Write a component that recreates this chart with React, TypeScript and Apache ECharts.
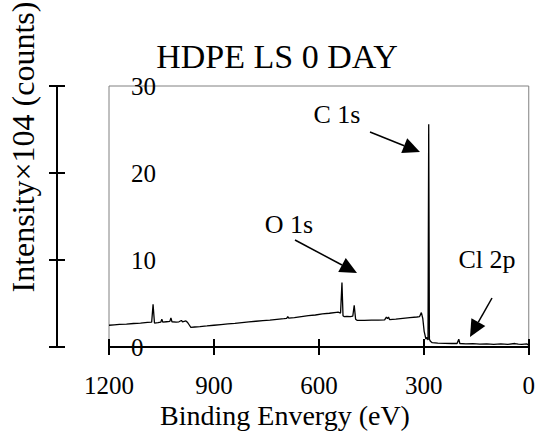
import React, { useEffect, useRef } from "react";
import * as echarts from "echarts";

const titleText = "HDPE LS 0 DAY";
const xAxisName = "Binding Envergy (eV)";
const yAxisName = "Intensity×104 (counts)";
const xMin = 0;
const xMax = 1200;
const xStep = 300;
const yMin = 0;
const yMax = 30;
const yStep = 10;

// binding energy (eV)
const energy = [
  1200, 1185, 1170, 1150, 1130, 1110, 1090, 1078, 1074, 1070, 1060, 1052, 1049, 1046,
  1036, 1026, 1023, 1020, 1008, 1000, 993, 990, 985, 980, 976, 970, 966, 955, 940, 920,
  900, 880, 860, 840, 820, 800, 780, 760, 740, 720, 700, 692, 689, 686, 670, 650, 630,
  610, 590, 570, 550, 545, 538, 534, 531, 528, 520, 510, 503, 499, 495, 490, 470, 450,
  430, 412, 407, 404, 401, 398, 380, 360, 340, 320, 312, 307, 303, 299, 294, 291, 288,
  286, 284, 281, 276, 260, 240, 220, 205, 200, 197, 180, 160, 140, 120, 100, 80, 60, 40,
  30, 20, 5, 0,
];
// intensity (x10^4 counts)
const intensity = [
  2.5, 2.55, 2.6, 2.62, 2.7, 2.75, 2.82, 2.85, 4.9, 2.75, 2.8, 2.85, 3.2, 2.85,
  2.9, 2.95, 3.35, 2.9, 2.85, 2.9, 3.05, 2.9, 2.95, 3.0, 2.85, 2.5, 2.25, 2.3, 2.35, 2.42,
  2.5, 2.58, 2.65, 2.72, 2.8, 2.88, 2.96, 3.03, 3.1, 3.18, 3.25, 3.3, 3.5, 3.32, 3.38, 3.5, 3.6,
  3.68, 3.8, 3.88, 3.98, 4.0, 3.9, 7.4, 3.6, 3.5, 3.52, 3.5, 3.55, 4.8, 3.2, 3.05, 3.05, 3.1,
  3.1, 3.12, 3.45, 3.25, 3.45, 3.15, 3.2, 3.3, 3.38, 3.45, 3.5, 3.95, 3.3, 1.8, 0.9, 1.1, 0.8,
  25.6, 0.9, 0.65, 0.5, 0.45, 0.42, 0.4, 0.4, 0.9, 0.4, 0.35, 0.38, 0.32, 0.35, 0.3, 0.35, 0.3, 0.4,
  0.32, 0.3, 0.35, 0.2,
];
const peakLabels = ["C 1s", "O 1s", "Cl 2p"];

const FONT = "Times New Roman, Liberation Serif, DejaVu Serif, serif";

function arrow(x1: number, y1: number, x2: number, y2: number) {
  const dx = x2 - x1;
  const dy = y2 - y1;
  const len = Math.sqrt(dx * dx + dy * dy);
  const ux = dx / len;
  const uy = dy / len;
  const hl = 17;
  const hw = 8;
  const bx = x2 - ux * hl;
  const by = y2 - uy * hl;
  return [
    {
      type: "line",
      shape: { x1, y1, x2: bx, y2: by },
      style: { stroke: "#000", lineWidth: 1.5 },
    },
    {
      type: "polygon",
      shape: {
        points: [
          [x2, y2],
          [bx - uy * hw, by + ux * hw],
          [bx + uy * hw, by - ux * hw],
        ],
      },
      style: { fill: "#000" },
    },
  ];
}

function label(text: string, x: number, y: number, size: number, rotation = 0) {
  return {
    type: "text",
    x,
    y,
    rotation,
    style: {
      text,
      font: `${size}px ${FONT}`,
      fontFamily: FONT,
      fontSize: size,
      fill: "#000",
      align: "center",
      verticalAlign: "middle",
    },
  };
}

export default function App() {
  const ref = useRef<HTMLDivElement>(null);
  useEffect(() => {
    if (!ref.current) return;
    const chart = echarts.init(ref.current, undefined, { renderer: "svg" });
    const data = energy.map((e, i) => [e, intensity[i]]);
    const baseX = {
      type: "value",
      min: xMin,
      max: xMax,
      interval: xStep,
      inverse: true,
      position: "bottom",
      splitLine: { show: false },
      axisLine: { show: true, onZero: false, lineStyle: { color: "#000", width: 2 } },
    };
    const baseY = {
      type: "value",
      min: yMin,
      max: yMax,
      interval: yStep,
      position: "left",
      offset: 52,
      splitLine: { show: false },
      axisLine: { show: true, onZero: false, lineStyle: { color: "#000", width: 2 } },
    };
    chart.setOption({
      animation: false,
      backgroundColor: "#fff",
      textStyle: { fontFamily: FONT },
      grid: {
        left: 109,
        right: 9,
        top: 86,
        bottom: 90,
        show: true,
        borderColor: "#808080",
        borderWidth: 1,
        backgroundColor: "transparent",
      },
      xAxis: [
        {
          ...baseX,
          axisTick: { show: true, inside: false, length: 8, lineStyle: { color: "#000", width: 2 } },
          axisLabel: {
            color: "#000",
            fontFamily: FONT,
            fontSize: 25,
            margin: 26,
            formatter: (v: number) => String(v),
          },
        },
        {
          ...baseX,
          axisTick: { show: true, inside: true, length: 8, lineStyle: { color: "#000", width: 2 } },
          axisLabel: { show: false },
        },
      ],
      yAxis: [
        {
          ...baseY,
          axisTick: { show: true, inside: false, length: 8, lineStyle: { color: "#000", width: 2 } },
          axisLabel: {
            inside: true,
            color: "#000",
            fontFamily: FONT,
            fontSize: 25,
            margin: 74,
            padding: [6, 0, 0, 0],
            formatter: (v: number) => String(v),
          },
        },
        {
          ...baseY,
          axisTick: { show: true, inside: true, length: 8, lineStyle: { color: "#000", width: 2 } },
          axisLabel: { show: false },
        },
      ],
      series: [
        {
          type: "line",
          xAxisIndex: 0,
          yAxisIndex: 0,
          data,
          showSymbol: false,
          symbol: "none",
          lineStyle: { color: "#000", width: 1.3 },
          clip: true,
        },
      ],
      graphic: [
        label(titleText, 277, 56, 34),
        label(xAxisName, 285, 415, 28),
        label(yAxisName, 23, 147, 32, Math.PI / 2),
        label(peakLabels[0], 337, 114, 26),
        label(peakLabels[1], 289, 224, 26),
        label(peakLabels[2], 487, 259, 26),
        ...arrow(370, 132, 420, 152),
        ...arrow(295, 240, 357, 273),
        ...arrow(492, 298, 470, 337),
      ],
    });
    return () => chart.dispose();
  }, []);
  return (
    <div
      ref={ref}
      style={{ position: "fixed", left: 0, top: 0, width: 538, height: 437 }}
    />
  );
}
